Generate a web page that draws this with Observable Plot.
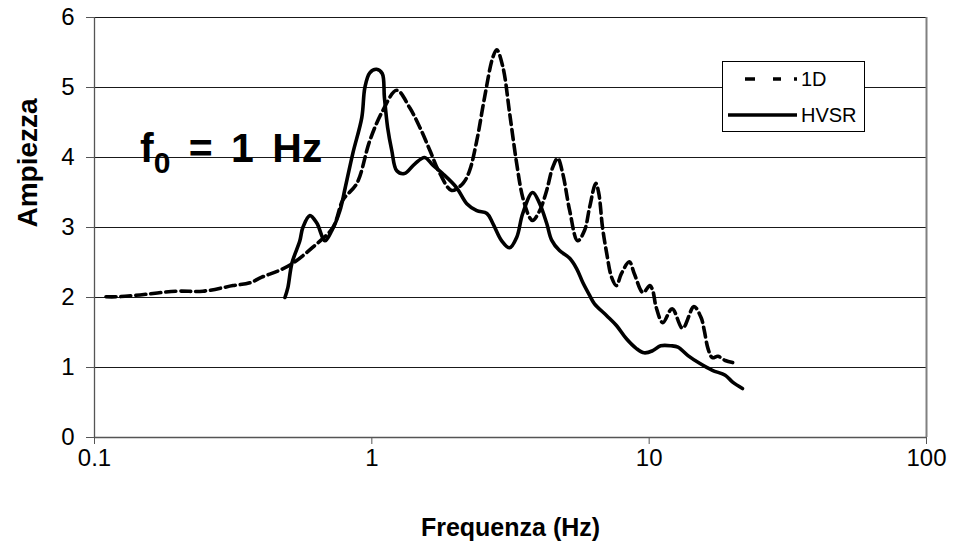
<!DOCTYPE html>
<html>
<head>
<meta charset="utf-8">
<script src="https://cdn.jsdelivr.net/npm/d3@7"></script>
<script src="https://cdn.jsdelivr.net/npm/@observablehq/plot@0.6"></script>
<style>
  html, body { margin: 0; padding: 0; background: #fff; }
  #chart { width: 953px; height: 544px; }
</style>
</head>
<body>
<div id="chart"></div>
<script>
// 1D transfer function: frequency (Hz) and amplification
const freq1D = [
  0.11, 0.12, 0.14, 0.198, 0.246, 0.316, 0.363, 0.401, 0.466, 0.519,
  0.613, 0.724, 0.786, 0.883, 0.983, 1.095, 1.23, 1.37, 1.49, 1.62,
  1.76, 1.94, 2.13, 2.25, 2.39, 2.55, 2.73, 2.82, 2.97, 3.14,
  3.33, 3.50, 3.71, 3.80, 4.03, 4.27, 4.49, 4.68, 4.88, 5.17,
  5.52, 5.85, 6.1, 6.42, 6.58, 6.79, 7.03, 7.32, 7.62, 7.94,
  8.48, 8.84, 9.5, 10.06, 10.3, 10.6, 11.2, 12.1, 13.2, 14.5,
  15.4, 15.8, 16.3, 16.9, 17.7, 18.8, 20.0
];
const amp1D = [
  2.01, 2.01, 2.03, 2.09, 2.09, 2.17, 2.21, 2.29, 2.39, 2.49,
  2.72, 3.0, 3.39, 3.63, 4.24, 4.67, 4.96, 4.71, 4.43, 4.1,
  3.77, 3.53, 3.63, 3.81, 4.24, 4.86, 5.43, 5.54, 5.29, 4.63,
  3.91, 3.43, 3.14, 3.1, 3.24, 3.53, 3.86, 3.99, 3.77, 3.24,
  2.81, 2.96, 3.29, 3.63, 3.49, 3.0, 2.63, 2.29, 2.17, 2.34,
  2.51, 2.34, 2.07, 2.17, 2.1, 1.86, 1.64, 1.84, 1.56, 1.87,
  1.71, 1.53, 1.27, 1.14, 1.16, 1.10, 1.07
];

// HVSR spectral ratio: frequency (Hz) and amplitude
const freqHVSR = [
  0.486, 0.498, 0.515, 0.55, 0.564, 0.598, 0.634, 0.677, 0.718, 0.767,
  0.8, 0.854, 0.92, 0.944, 0.983, 1.04, 1.09, 1.11, 1.14, 1.18,
  1.23, 1.31, 1.43, 1.55, 1.66, 1.80, 2.02, 2.2, 2.39, 2.6,
  2.73, 2.94, 3.14, 3.33, 3.5, 3.80, 4.03, 4.27, 4.45, 4.75,
  5.17, 5.48, 5.77, 6.1, 6.35, 7.03, 7.62, 8.28, 9.0, 9.6,
  10.3, 11.0, 12.0, 12.7, 13.8, 15.2, 16.9, 18.8, 20.0, 21.7
];
const ampHVSR = [
  2.0, 2.14, 2.49, 2.81, 3.0, 3.17, 3.06, 2.81, 2.96, 3.24,
  3.55, 4.06, 4.57, 5.0, 5.21, 5.26, 5.2, 4.86, 4.43, 4.1,
  3.81, 3.77, 3.91, 4.0, 3.89, 3.77, 3.57, 3.34, 3.24, 3.2,
  3.06, 2.81, 2.71, 2.86, 3.2, 3.5, 3.34, 3.06, 2.82, 2.67,
  2.56, 2.41, 2.21, 2.03, 1.91, 1.74, 1.6, 1.41, 1.27, 1.21,
  1.24, 1.31, 1.31, 1.29, 1.17, 1.06, 0.96, 0.89, 0.79, 0.7
];

const xTicks = [0.1, 1, 10, 100];
const yTicks = [0, 1, 2, 3, 4, 5, 6];
const seriesNames = ["1D", "HVSR"];
const xTitle = "Frequenza (Hz)";
const yTitle = "Ampiezza";

const rows1D = freq1D.map((f, i) => ({f, a: amp1D[i]}));
const rowsHVSR = freqHVSR.map((f, i) => ({f, a: ampHVSR[i]}));

const font = "'Liberation Sans', Arial, sans-serif";

const chart = Plot.plot({
  width: 953,
  height: 544,
  marginLeft: 94,
  marginRight: 27,
  marginTop: 17,
  marginBottom: 107,
  style: {fontFamily: font, fontSize: "24px", background: "#fff", color: "#000", overflow: "visible"},
  x: {type: "log", domain: [0.1, 100]},
  y: {domain: [0, 6]},
  marks: [
    // horizontal gridlines
    Plot.ruleY(yTicks.filter(d => d > 0), {stroke: "#000", strokeWidth: 1, strokeOpacity: 0.9}),
    // plot-area frame
    Plot.ruleX([100], {stroke: "#808080", strokeWidth: 2}),
    Plot.ruleX([0.1], {stroke: "#555", strokeWidth: 1.3}),
    Plot.ruleY([0], {stroke: "#555", strokeWidth: 1.3}),
    Plot.axisY({ticks: yTicks, tickSize: 8, tickPadding: 12, tickFormat: d => String(d), label: null, stroke: "#555"}),
    Plot.axisX({ticks: xTicks, tickSize: 7, tickPadding: 4, tickFormat: d => String(d), label: null, stroke: "#555"}),
    // series
    Plot.line(rows1D, {x: "f", y: "a", stroke: "#000", strokeWidth: 3.6, strokeDasharray: "10,5", curve: "catmull-rom"}),
    Plot.line(rowsHVSR, {x: "f", y: "a", stroke: "#000", strokeWidth: 3.6, curve: "catmull-rom"}),
    // axis titles
    Plot.text([xTitle], {frameAnchor: "bottom", dy: 98, text: d => d, fontWeight: "bold", fontSize: 25}),
    Plot.text([yTitle], {frameAnchor: "left", dx: -66, rotate: -90, text: d => d, fontWeight: "bold", fontSize: 28})
  ]
});

document.getElementById("chart").appendChild(chart);

// legend box and resonance-frequency annotation
const svg = d3.select(chart);
const lg = svg.append("g").attr("font-family", font).attr("font-size", 20).attr("text-anchor", "start");
lg.append("rect").attr("x", 722.5).attr("y", 61.5).attr("width", 142).attr("height", 70)
  .attr("fill", "#fff").attr("stroke", "#000").attr("stroke-width", 1);
lg.append("line").attr("x1", 745).attr("x2", 797).attr("y1", 79).attr("y2", 79)
  .attr("stroke", "#000").attr("stroke-width", 3.6).attr("stroke-dasharray", "10,18,8,13,3");
lg.append("line").attr("x1", 728).attr("x2", 797).attr("y1", 115).attr("y2", 115)
  .attr("stroke", "#000").attr("stroke-width", 3.6);
lg.append("text").attr("x", 801).attr("y", 79).attr("dy", "0.35em").text(seriesNames[0]);
lg.append("text").attr("x", 801).attr("y", 115).attr("dy", "0.35em").text(seriesNames[1]);

const ann = svg.append("text").attr("x", 140).attr("y", 162).attr("text-anchor", "start")
  .attr("font-family", font).attr("font-weight", "bold").attr("font-size", 41)
  .attr("word-spacing", "7px");
ann.append("tspan").text("f");
ann.append("tspan").attr("font-size", 30).attr("dy", 11).text("0");
ann.append("tspan").attr("dy", -11).text(" = 1 Hz");
</script>
</body>
</html>
